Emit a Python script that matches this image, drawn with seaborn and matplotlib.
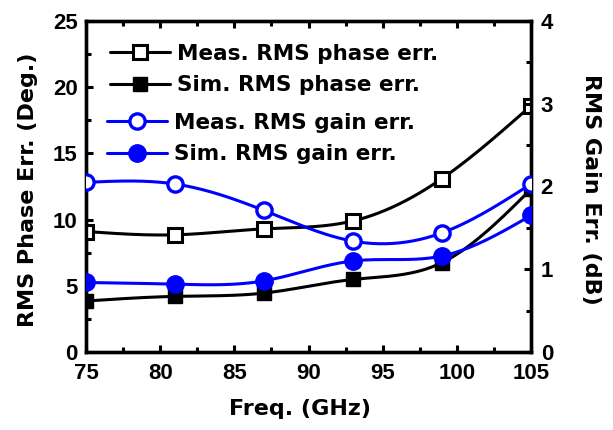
import numpy as np
import matplotlib
matplotlib.use("Agg")
import matplotlib.pyplot as plt
import seaborn as sns
from matplotlib.lines import Line2D
from matplotlib.ticker import MultipleLocator

sns.set_theme(style="ticks")
plt.rcParams['font.family'] = ['DejaVu Sans']
plt.rcParams['font.weight'] = 'bold'
for k in ['text.color', 'axes.labelcolor', 'xtick.color', 'ytick.color', 'axes.edgecolor']:
    plt.rcParams[k] = 'black'

freq = [75, 81, 87, 93, 99, 105]
meas_phase = [9.1, 8.85, 9.3, 9.9, 13.1, 18.6]
sim_phase = [3.85, 4.2, 4.45, 5.48, 6.75, 12.3]
meas_gain = [2.05, 2.03, 1.71, 1.34, 1.44, 2.03]
sim_gain = [0.84, 0.82, 0.86, 1.10, 1.16, 1.65]

labels = ["Meas. RMS phase err.", "Sim. RMS phase err.",
          "Meas. RMS gain err.", "Sim. RMS gain err."]


def smooth(x, y, n=200):
    # natural cubic spline used only to draw the connecting curve
    x = np.asarray(x, float); y = np.asarray(y, float)
    k = len(x) - 1
    h = np.diff(x)
    A = np.zeros((k + 1, k + 1)); b = np.zeros(k + 1)
    A[0, 0] = A[k, k] = 1
    for i in range(1, k):
        A[i, i - 1] = h[i - 1]; A[i, i] = 2 * (h[i - 1] + h[i]); A[i, i + 1] = h[i]
        b[i] = 3 * ((y[i + 1] - y[i]) / h[i] - (y[i] - y[i - 1]) / h[i - 1])
    c = np.linalg.solve(A, b)
    xs = np.linspace(x[0], x[-1], n)
    idx = np.clip(np.searchsorted(x, xs) - 1, 0, k - 1)
    bb = (y[1:] - y[:-1]) / h - h * (2 * c[:-1] + c[1:]) / 3
    d = (c[1:] - c[:-1]) / (3 * h)
    t = xs - x[idx]
    ys = y[idx] + bb[idx] * t + c[idx] * t ** 2 + d[idx] * t ** 3
    return xs, ys


fig = plt.figure(figsize=(6.13, 4.30), dpi=100)
ax = fig.add_axes([86 / 613, 1 - 352 / 430, 445 / 613, 331 / 430])
ax2 = ax.twinx()

blue = '#0000ff'
lw = 2.2

xs, ys = smooth(freq, meas_phase)
ax.plot(xs, ys, color='black', lw=lw, zorder=2)
xs, ys = smooth(freq, sim_phase)
ax.plot(xs, ys, color='black', lw=lw, zorder=2)
sns.lineplot(x=freq, y=meas_phase, ax=ax, marker='s', linestyle='', markersize=10,
             markerfacecolor='white', markeredgecolor='black', markeredgewidth=2.2,
             zorder=3)
sns.lineplot(x=freq, y=sim_phase, ax=ax, marker='s', linestyle='', markersize=10,
             markerfacecolor='black', markeredgecolor='black', markeredgewidth=1,
             zorder=3)

xs, ys = smooth(freq, meas_gain)
ax2.plot(xs, ys, color=blue, lw=lw, zorder=2)
xs, ys = smooth(freq, sim_gain)
ax2.plot(xs, ys, color=blue, lw=lw, zorder=2)
sns.lineplot(x=freq, y=meas_gain, ax=ax2, marker='o', linestyle='', markersize=11,
             markerfacecolor='white', markeredgecolor=blue, markeredgewidth=2.4,
             zorder=3)
sns.lineplot(x=freq, y=sim_gain, ax=ax2, marker='o', linestyle='', markersize=12.5,
             markerfacecolor=blue, markeredgecolor=blue, markeredgewidth=1,
             zorder=3)

ax.set_xlim(75, 105)
ax.set_ylim(0, 25)
ax2.set_ylim(0, 4)
ax.xaxis.set_major_locator(MultipleLocator(5))
ax.xaxis.set_minor_locator(MultipleLocator(2.5))
ax.yaxis.set_major_locator(MultipleLocator(5))
ax.yaxis.set_minor_locator(MultipleLocator(2.5))
ax2.yaxis.set_major_locator(MultipleLocator(1))
ax2.yaxis.set_minor_locator(MultipleLocator(0.5))

tick_font = {'family': 'Liberation Sans', 'weight': 'bold', 'size': 16}
ax.tick_params(axis='x', which='major', direction='in', length=5, width=2.2, top=True, pad=8)
ax.tick_params(axis='y', which='major', direction='in', length=5, width=2.2, right=False, pad=6)
ax.tick_params(axis='both', which='minor', direction='in', length=3.5, width=2.2, top=True)
ax.tick_params(axis='y', which='minor', right=False)
ax2.tick_params(axis='y', which='major', direction='in', length=5, width=2.2, pad=7)
ax2.tick_params(axis='y', which='minor', direction='in', length=3.5, width=2.2)
for a in (ax, ax2):
    for s in a.spines.values():
        s.set_linewidth(2.4)
        s.set_color('black')
    for lab in a.get_xticklabels() + a.get_yticklabels():
        lab.set_fontproperties(tick_font)

label_font = dict(fontsize=16, fontweight='bold', family='DejaVu Sans')
ax.set_xlabel("Freq. (GHz)", **label_font)
ax.xaxis.set_label_coords(0.48, -0.142)
ax.set_ylabel("RMS Phase Err. (Deg.)", **label_font)
ax.yaxis.set_label_coords(-0.108, 0.49)
ax2.set_ylabel("RMS Gain Err. (dB)", rotation=270, va='bottom', **label_font)
ax2.yaxis.set_label_coords(1.112, 0.49)

h1 = [Line2D([], [], color='black', lw=lw, marker='s', markersize=10,
             markerfacecolor='white', markeredgecolor='black', markeredgewidth=2.2),
      Line2D([], [], color='black', lw=lw, marker='s', markersize=10,
             markerfacecolor='black', markeredgecolor='black')]
h2 = [Line2D([], [], color=blue, lw=lw, marker='o', markersize=11,
             markerfacecolor='white', markeredgecolor=blue, markeredgewidth=2.4),
      Line2D([], [], color=blue, lw=lw, marker='o', markersize=12.5,
             markerfacecolor=blue, markeredgecolor=blue)]
legprops = dict(frameon=False, handlelength=2.8, handletextpad=0.3, labelspacing=0.53,
                borderpad=0, borderaxespad=0,
                prop={'weight': 'bold', 'size': 15.5, 'family': 'DejaVu Sans'})
leg1 = ax2.legend(h1, labels[:2], loc='upper left',
                  bbox_to_anchor=((110 - 86) / 445, (352 - 44) / 331), **legprops)
ax2.add_artist(leg1)
ax2.legend(h2, labels[2:], loc='upper left',
           bbox_to_anchor=((107 - 86) / 445, (352 - 113) / 331), **legprops)

fig.savefig("out.png", dpi=100)
